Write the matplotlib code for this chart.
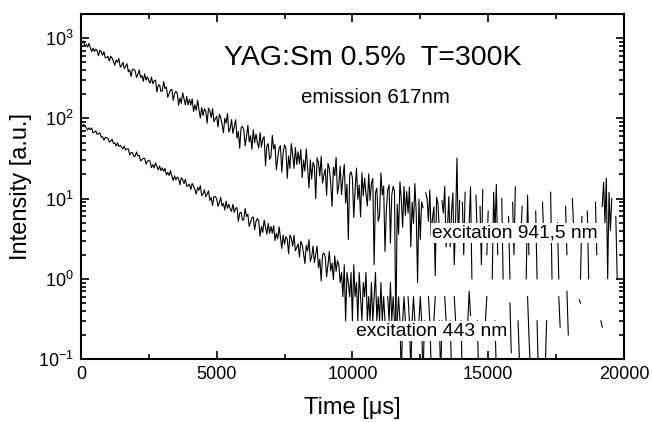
import numpy as np
import matplotlib.pyplot as plt
from matplotlib.ticker import LogLocator, MultipleLocator

plt.rcParams['font.family'] = ['Liberation Sans', 'DejaVu Sans']
plt.rcParams['mathtext.fontset'] = 'custom'
plt.rcParams['mathtext.rm'] = 'Liberation Sans'
plt.rcParams['mathtext.it'] = 'Liberation Sans'

# time base of the scope, us
t_step = 50
n_pts = 400

# emission 617nm, excitation 941,5 nm  (0 = no counts)
exc_941 = [
    940, 865, 921, 787, 832, 773, 858, 754, 679, 750,
    682, 727, 698, 602, 708, 674, 611, 675, 566, 574,
    594, 518, 594, 564, 510, 459, 535, 497, 557, 434,
    452, 498, 417, 444, 479, 380, 402, 333, 408, 409,
    392, 323, 352, 401, 323, 341, 289, 358, 300, 329,
    295, 274, 327, 270, 293, 299, 214, 259, 261, 216,
    220, 286, 235, 245, 183, 202, 225, 229, 168, 203,
    217, 205, 146, 180, 154, 208, 175, 147, 187, 147,
    173, 146, 175, 122, 147, 126, 168, 128, 101, 137,
    108, 131, 123, 87, 134, 124, 102, 132, 91, 98,
    106, 78, 112, 103, 84, 66, 100, 87, 115, 67.5,
    75, 96.5, 65, 79, 96, 56.7, 69, 42.3, 76.4, 79.3,
    72, 45.4, 59.4, 81.8, 51, 60.8, 41.2, 72, 49.6, 63.6,
    49.9, 42.5, 66.4, 44, 55.4, 59.2, 25.6, 45.8, 48.3, 30.9,
    33.1, 61.4, 41.4, 47.2, 22.8, 32, 42.2, 45.7, 21.4, 37.3,
    46.8, 43, 17.9, 34, 23.8, 48.5, 35.1, 23.8, 43.3, 26.7,
    38.4, 27.2, 41, 18.3, 30.3, 22, 41.6, 24.8, 13.6, 30.4,
    17.5, 28.3, 25.3, 10, 32.2, 28.2, 19.1, 33.4, 15.6, 19.6,
    23.4, 11, 27.5, 23.9, 15.6, 8, 24.5, 19.3, 32.6, 11.5,
    14.7, 25.3, 11.2, 18.2, 26.6, 8.8, 15.1, 3.1, 19.7, 21.6,
    18.2, 5.8, 13, 24, 9.8, 14.8, 5.9, 21, 10.8, 18,
    11.4, 8.1, 20.3, 9.5, 15.5, 17.8, 1.5, 11.8, 13.5, 5.2,
    6.2, 20.9, 11.1, 14.3, 2.2, 7.1, 12.8, 14.8, 2.8, 11.1,
    14.2, 12.5, 0.2, 8.5, 3.6, 16.2, 9.8, 4.4, 14.2, 6.2,
    12.2, 6.6, 14, 2.5, 9, 4.9, 15.4, 6.7, 0.9, 9.8,
    3.1, 9.1, 7.7, 0, 11.8, 9.9, 5.2, 12.8, 3.4, 5.7,
    7.9, 1.1, 10.4, 8.7, 4.1, 0, 9.4, 6.6, 14.2, 2.5,
    4.2, 10.6, 2.5, 6.8, 11.8, 1.5, 5.4, 32, 3, 9.5,
    0, 9, 2, 12, 0, 0, 5, 14, 1, 0,
    0, 11, 3, 0, 8, 1.5, 13, 0, 0, 2,
    7, 0, 0, 1, 12, 4, 15, 2, 0, 0,
    10, 1, 0, 0, 0, 6, 1, 0, 9, 2,
    14, 0, 0, 0, 3, 8, 0, 0, 1, 11,
    2, 0, 0, 0, 0, 7, 1, 0, 0, 0,
    9, 3, 0, 0, 0, 0, 12, 1, 0, 0,
    0, 5, 1, 0, 0, 0, 0, 8, 2, 0,
    0, 0, 10, 4, 0, 0, 0, 0, 1, 6,
    0, 0, 0, 7, 1, 0, 0, 0, 0, 9,
    2, 0, 0, 0, 8, 16, 5, 18, 1, 12,
    4, 10, 0, 0, 6, 1, 0, 0, 0, 0]

# emission 617nm, excitation 443 nm  (0 = no counts)
exc_443 = [
    85.9, 79.5, 84.1, 81, 76.2, 71.5, 76.1, 72.4, 75.8, 66.1,
    67.2, 69.8, 63.2, 64.4, 66.2, 58.2, 59.2, 53.3, 58.1, 57.5,
    56.1, 50.5, 52, 55, 48.7, 49.5, 45.1, 49.6, 44.7, 46.2,
    43.7, 41.6, 45.1, 40.3, 41.6, 41.5, 34.9, 37.6, 37.4, 33.5,
    33.8, 38.1, 34.1, 34.5, 29.5, 30.6, 31.8, 31.8, 26.9, 29.1,
    30.1, 29, 24.3, 26.5, 24.2, 27.9, 25.2, 22.8, 25.5, 22.3,
    24.2, 21.9, 23.8, 19.7, 21.2, 19.4, 22.3, 19.1, 16.8, 19.2,
    17.1, 18.6, 17.7, 14.9, 18.2, 17.3, 15.4, 17.4, 14.2, 14.5,
    15.2, 13, 15.4, 14.4, 12.9, 11.4, 13.8, 12.7, 14.5, 10.9,
    11.4, 12.9, 10.5, 11.3, 12.5, 9.5, 10.3, 8.2, 10.6, 10.6,
    10, 8, 8.9, 10.4, 8.1, 8.7, 7.2, 9.3, 7.6, 8.5,
    7.45, 6.9, 8.5, 6.75, 7.6, 7.7, 5.2, 6.6, 6.8, 5.4,
    5.45, 7.5, 6.0, 6.35, 4.5, 5.1, 5.75, 5.9, 4.1, 5.2,
    5.65, 5.25, 3.4, 4.5, 3.8, 5.4, 4.4, 3.6, 4.9, 3.7,
    4.5, 3.7, 4.6, 3.0, 3.7, 3.15, 4.45, 3.3, 2.4, 3.5,
    2.7, 3.37, 3.12, 2.06, 3.51, 3.2, 2.55, 3.49, 2.24, 2.46,
    2.73, 1.87, 2.94, 2.67, 2.08, 1.55, 2.61, 2.23, 3.08, 1.65,
    1.88, 2.56, 1.6, 2.04, 2.56, 1.37, 1.75, 0.94, 2.0, 2.1,
    1.88, 1.06, 1.5, 2.2, 1.26, 1.57, 0.98, 1.93, 1.24, 1.68,
    1.5, 0.9, 1.2, 0.6, 1.5, 0.3, 1.2, 0.9, 0.6, 1.2,
    0.3, 1.5, 0.6, 0.9, 0.3, 1.2, 0.6, 0.3, 0.9, 0.6,
    1.2, 0.3, 0.6, 0.3, 0.9, 0.3, 0.6, 1.2, 0.3, 0.6,
    0.3, 0.9, 0.3, 0.6, 0.3, 0, 0.6, 0.3, 0.9, 0.3,
    0.6, 0.3, 0, 0.3, 0.6, 0.3, 0.06, 0.3, 0.6, 0.3,
    0, 0.6, 0.3, 0.07, 0.3, 0.6, 0.3, 0, 0, 0.3,
    0.6, 0.3, 0.05, 0.3, 0, 0, 0.6, 0.3, 0.08, 0,
    0.3, 0.6, 0, 0, 0.3, 0.06, 0.3, 0, 0.6, 0.3,
    0, 0, 0.3, 0.07, 0, 0.6, 0.3, 0, 0, 0,
    0.3, 0.05, 0, 0, 0, 0.3, 0.7, 0.35, 0, 0,
    0, 0, 0.3, 0.06, 0, 0, 0, 0, 0.3, 0.6,
    0, 0, 0, 0, 0, 0.3, 0.07, 0, 0, 0,
    0, 0, 0, 0, 0, 0, 0.5, 0.12, 0, 0,
    0, 0, 0.3, 0.1, 0, 0, 0, 0, 0, 0.6,
    0.2, 0.08, 0, 0, 0, 0, 0.3, 0.06, 0, 0,
    0, 0, 0.07, 0.3, 0, 0, 0, 0, 0, 0,
    0, 0, 0.6, 0.25, 0, 0, 0, 0, 0.7, 0.2,
    0, 0, 0, 0, 0, 0, 0, 0.55, 0.5, 0,
    0, 0, 0, 0, 0, 0, 0, 0, 0, 0,
    0, 0, 0, 0.3, 0.25, 0, 0, 0, 0, 0,
    0, 0, 0, 0, 0, 0, 0, 0, 0, 0]

t = np.arange(n_pts) * t_step

fig = plt.figure(figsize=(6.52, 4.22), dpi=100)
ax = fig.add_axes([0.124, 0.149, 0.833, 0.818])
ax.set_yscale('log', nonpositive='mask')

ax.plot(t, exc_941, color='black', lw=0.8)
ax.plot(t, exc_443, color='black', lw=0.8)

ax.set_xlim(0, 20000)
ax.set_ylim(0.1, 2000)

ax.xaxis.set_major_locator(MultipleLocator(5000))
ax.xaxis.set_minor_locator(MultipleLocator(2500))
ax.yaxis.set_major_locator(LogLocator(base=10, numticks=10))
ax.yaxis.set_minor_locator(LogLocator(base=10, subs=np.arange(2, 10), numticks=10))
ax.tick_params(which='both', direction='in', top=True, right=True, width=1.2)
ax.tick_params(which='major', length=6, labelsize=13, pad=5)
ax.tick_params(which='minor', length=3.5)
for s in ax.spines.values():
    s.set_linewidth(1.5)

ax.set_xlabel('Time [μs]', fontsize=17, labelpad=10)
ax.set_ylabel('Intensity [a.u.]', fontsize=17, labelpad=4)

ax.text(0.537, 0.873, 'YAG:Sm 0.5%  T=300K', transform=ax.transAxes,
        ha='center', va='center', fontsize=20.5)
ax.text(0.543, 0.759, 'emission 617nm', transform=ax.transAxes,
        ha='center', va='center', fontsize=14.8)
ax.text(0.799, 0.365, 'excitation 941,5 nm', transform=ax.transAxes,
        ha='center', va='center', fontsize=13.8,
        bbox=dict(facecolor='white', edgecolor='none', pad=1))
ax.text(0.646, 0.081, 'excitation 443 nm', transform=ax.transAxes,
        ha='center', va='center', fontsize=13.9,
        bbox=dict(facecolor='white', edgecolor='none', pad=1))

fig.savefig('out.png', dpi=100)
